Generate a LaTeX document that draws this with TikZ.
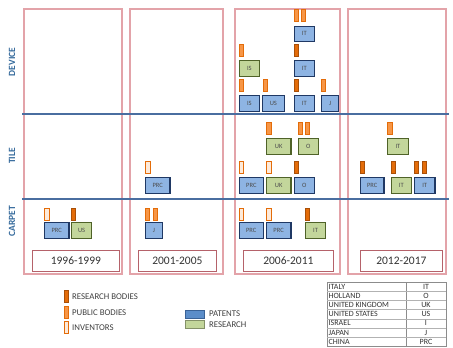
\documentclass[tikz,border=0pt]{standalone}
\usepackage{fontspec}
\setmainfont{Carlito}
\begin{document}
\begin{tikzpicture}[x=1pt,y=-1pt,
  colbox/.style={draw=pinkc, line width=1.4pt},
  sepline/.style={draw=lineblue, line width=1.5pt},
  rowlab/.style={font=\fontsize{9.5}{10}\selectfont\bfseries, text=labblue, rotate=90},
  yearbox/.style={draw=yearc, line width=0.8pt, fill=white, minimum height=21pt, inner sep=0pt, font=\fontsize{11.5}{12}\selectfont, text=black!80, anchor=north west},
  pat/.style={draw=patdraw, fill=patfill, line width=1.2pt, minimum height=15.5pt, inner sep=0pt, anchor=north west, font=\fontsize{6.5}{7}\selectfont, text=black!70},
  res/.style={draw=resdraw, fill=resfill, line width=1.2pt, minimum height=15.5pt, inner sep=0pt, anchor=north west, font=\fontsize{6.5}{7}\selectfont, text=black!70},
  bar/.style={minimum width=4.2pt, minimum height=12pt, inner sep=0pt, line width=0.8pt, anchor=north west},
  rb/.style={bar, draw=rbdraw, fill=rbfill},
  pb/.style={bar, draw=rbfill, fill=pbfill},
  inv/.style={bar, draw=rbfill, fill=invfill},
  legtext/.style={anchor=west, inner sep=0pt, font=\fontsize{8.8}{10}\selectfont, text=black!75},
  tabtext/.style={inner sep=0pt, font=\fontsize{8}{8}\selectfont, text=black!80}
]
\definecolor{pinkc}{HTML}{E3A3A9}
\definecolor{lineblue}{HTML}{4A6EA0}
\definecolor{labblue}{HTML}{356A9C}
\definecolor{yearc}{HTML}{B5626A}
\definecolor{patfill}{HTML}{8EB4E3}
\definecolor{patdraw}{HTML}{1F3864}
\definecolor{resfill}{HTML}{C3D69B}
\definecolor{resdraw}{HTML}{4F6228}
\definecolor{rbfill}{HTML}{E36C09}
\definecolor{rbdraw}{HTML}{A94F07}
\definecolor{pbfill}{HTML}{F79646}
\definecolor{invfill}{HTML}{FDEADA}
\definecolor{swpat}{HTML}{5B8DC9}
\definecolor{swpatd}{HTML}{3A6296}
\useasboundingbox[fill=white] (0,0) rectangle (453,348);

% column boxes
\draw[colbox] (24,9) rectangle (122,274);
\draw[colbox] (130,9) rectangle (223,274);
\draw[colbox] (235,9) rectangle (340,274);
\draw[colbox] (348,9) rectangle (446,274);

% separators
\coordinate (l1a) at (22,114); \coordinate (l1b) at (449,114);
\coordinate (l2a) at (22,199); \coordinate (l2b) at (449,199);
\draw[sepline] (l1a) -- (l1b);
\draw[sepline] (l2a) -- (l2b);

% row labels
\node[rowlab] (rdev) at (12,62) {DEVICE};
\node[rowlab] (rtile) at (12,156) {TILE};
\node[rowlab] (rcarp) at (12,221) {CARPET};

% year boxes
\node[yearbox, minimum width=87pt] (y1) at (32,250) {1996-1999};
\node[yearbox, minimum width=78pt] (y2) at (138,250) {2001-2005};
\node[yearbox, minimum width=90pt] (y3) at (243,250) {2006-2011};
\node[yearbox, minimum width=82pt] (y4) at (360,250) {2012-2017};

% DEVICE row, col 3
\node[pat, minimum width=20.5pt] (d1) at (238.5,95) {IS};
\node[pat, minimum width=22.5pt] (d2) at (261.5,95) {US};
\node[pat, minimum width=20.5pt] (d3) at (293.5,95) {IT};
\node[pat, minimum width=17pt] (d4) at (321,95) {J};
\node[res, minimum width=20.5pt] (d5) at (238.5,60) {IS};
\node[pat, minimum width=20.5pt] (d6) at (293.5,60) {IT};
\node[pat, minimum width=20.5pt] (d7) at (293.5,25.5) {IT};
\node[pb] (db1) at (239,79) {};
\node[pb] (db2) at (262.5,79) {};
\node[rb] (db3) at (293.5,79) {};
\node[pb] (db4) at (321,79) {};
\node[pb] (db5) at (239,43.5) {};
\node[rb] (db6) at (293.5,43.5) {};
\node[pb] (db7) at (293.5,9) {};
\node[pb] (db8) at (301,9) {};

% TILE row
\node[pat, minimum width=24.3pt] (t1) at (145,177) {PRC};
\node[inv] (tb1) at (145.3,161) {};
\node[pat, minimum width=24.5pt] (t2) at (238.5,177) {PRC};
\node[res, minimum width=24.6pt] (t3) at (265.7,177) {UK};
\node[pat, minimum width=20.5pt] (t4) at (293.5,177) {O};
\node[inv] (tb2) at (239,161) {};
\node[inv] (tb3) at (266.3,161) {};
\node[rb] (tb4) at (293.5,161) {};
\node[res, minimum width=24.6pt] (t5) at (265.7,138) {UK};
\node[res, minimum width=20pt] (t6) at (297.7,138) {O};
\node[pb] (tb5) at (266.3,122) {};
\node[pb] (tb6) at (297.7,122) {};
\node[pb] (tb7) at (305,122) {};
\node[pat, minimum width=23.3pt] (t7) at (360,177) {PRC};
\node[res, minimum width=20pt] (t8) at (390.7,177) {IT};
\node[pat, minimum width=20.3pt] (t9) at (414,177) {IT};
\node[rb] (tb8) at (360,161) {};
\node[rb] (tb9) at (390.7,161) {};
\node[rb] (tb10) at (414,161) {};
\node[rb] (tb11) at (421.7,161) {};
\node[res, minimum width=20.7pt] (t10) at (387,138) {IT};
\node[pb] (tb12) at (387.3,122) {};

% CARPET row
\node[pat, minimum width=24.3pt] (c1) at (44,222) {PRC};
\node[res, minimum width=20pt] (c2) at (71,222) {US};
\node[inv] (cb1) at (44.3,207.5) {};
\node[rb] (cb2) at (71,207.5) {};
\node[pat, minimum width=16.7pt] (c3) at (145,222) {J};
\node[pb] (cb3) at (145,207.5) {};
\node[pb] (cb4) at (152.7,207.5) {};
\node[pat, minimum width=24.2pt] (c4) at (238.5,222) {PRC};
\node[pat, minimum width=24.6pt] (c5) at (265.7,222) {PRC};
\node[res, minimum width=20pt] (c6) at (305,222) {IT};
\node[inv] (cb5) at (239,207.5) {};
\node[inv] (cb6) at (266.3,207.5) {};
\node[rb] (cb7) at (305,207.5) {};

% legend
\node[rb] (lg1) at (63.5,290) {};
\node[pb] (lg2) at (63.5,306) {};
\node[inv] (lg3) at (63.5,321) {};
\node[legtext] (lt1) at (72,297) {RESEARCH BODIES};
\node[legtext] (lt2) at (72,313) {PUBLIC BODIES};
\node[legtext] (lt3) at (72,328) {INVENTORS};
\node[draw=swpatd, fill=swpat, line width=0.6pt, minimum width=19pt, minimum height=8pt, inner sep=0pt, anchor=north west] (ls1) at (184.5,309.5) {};
\node[draw=resdraw!70, fill=resfill, line width=0.6pt, minimum width=19pt, minimum height=8pt, inner sep=0pt, anchor=north west] (ls2) at (184.5,319.5) {};
\node[legtext] (lt4) at (209,313.5) {PATENTS};
\node[legtext] (lt5) at (209,324.5) {RESEARCH};

% table
\draw[black!45, line width=0.5pt] (327,282) rectangle (446,346.4);
\draw[black!45, line width=0.5pt] (406,282) -- (406,346.4);
\foreach \i in {1,...,6} {
  \draw[black!30, line width=0.4pt] (327,282+9.2*\i) -- (446,282+9.2*\i);
}
\node[tabtext, anchor=west] (tc1) at (328.5,286.6) {ITALY};
\node[tabtext, anchor=west] (tc2) at (328.5,295.8) {HOLLAND};
\node[tabtext, anchor=west] (tc3) at (328.5,305.0) {UNITED KINGDOM};
\node[tabtext, anchor=west] (tc4) at (328.5,314.2) {UNITED STATES};
\node[tabtext, anchor=west] (tc5) at (328.5,323.4) {ISRAEL};
\node[tabtext, anchor=west] (tc6) at (328.5,332.6) {JAPAN};
\node[tabtext, anchor=west] (tc7) at (328.5,341.8) {CHINA};
\node[tabtext] (tk1) at (426,286.6) {IT};
\node[tabtext] (tk2) at (426,295.8) {O};
\node[tabtext] (tk3) at (426,305.0) {UK};
\node[tabtext] (tk4) at (426,314.2) {US};
\node[tabtext] (tk5) at (426,323.4) {I};
\node[tabtext] (tk6) at (426,332.6) {J};
\node[tabtext] (tk7) at (426,341.8) {PRC};
\end{tikzpicture}
\end{document}
